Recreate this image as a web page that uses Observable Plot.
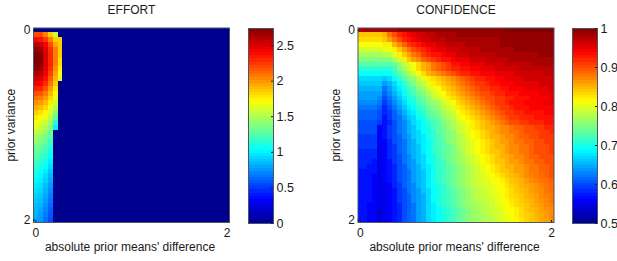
<!DOCTYPE html>
<html>
<head>
<meta charset="utf-8">
<script src="https://cdn.jsdelivr.net/npm/d3@7"></script>
<script src="https://cdn.jsdelivr.net/npm/@observablehq/plot@0.6"></script>
<style>
html,body{margin:0;padding:0;background:#fff}
#chart{position:relative;width:617px;height:261px;overflow:hidden}
#chart svg{position:absolute;top:0;background:transparent;overflow:visible}
</style>
</head>
<body>
<div id="chart"></div>
<script>
const xLabel = "absolute prior means' difference";
const yLabel = "prior variance";
const axisTicks = [0, 2];
const effortTicks = [0, 0.5, 1, 1.5, 2, 2.5];
const confidenceTicks = [0.5, 0.6, 0.7, 0.8, 0.9, 1];
const effortMax = 2.74;
const gridSize = 40;
const jetStops = [0, 0.125, 0.375, 0.625, 0.875, 1];
const jetColors = ["#00008f", "#0000ff", "#00ffff", "#ffff00", "#ff0000", "#800000"];

// Effort: one list per column of the grid, top row first. All other columns are 0.
const effortCol0 = [0,2.2,2.4,2.6,2.7,2.74,2.74,2.74,2.72,2.62,2.52,2.42,2.32,2.2,2.1,2.02,1.93,1.85,1.77,1.7,1.62,1.54,1.48,1.42,1.36,1.3,1.26,1.2,1.15,1.1,1.06,1.02,0.98,0.95,0.92,0.89,0.86,0.84,0.82,0.8];
const effortCol1 = [0,2.2,2.35,2.55,2.65,2.72,2.74,2.72,2.68,2.6,2.5,2.4,2.3,2.17,2.07,1.98,1.9,1.8,1.72,1.65,1.58,1.5,1.44,1.38,1.32,1.26,1.22,1.16,1.1,1.06,1.02,0.98,0.94,0.91,0.88,0.85,0.82,0.79,0.77,0.75];
const effortCol2 = [0,2.05,2.25,2.4,2.48,2.5,2.5,2.5,2.48,2.42,2.36,2.28,2.18,2.07,1.98,1.9,1.82,1.73,1.65,1.57,1.49,1.41,1.35,1.29,1.23,1.18,1.13,1.08,1.03,0.98,0.94,0.9,0.86,0.83,0.8,0.77,0.74,0.71,0.68,0.65];
const effortCol3 = [0,1.85,2.05,2.2,2.28,2.3,2.3,2.3,2.27,2.22,2.15,2.08,1.98,1.9,1.82,1.76,1.68,1.6,1.53,1.46,1.38,1.32,1.26,1.2,1.14,1.08,1.03,0.98,0.93,0.88,0.84,0.8,0.76,0.72,0.69,0.66,0.63,0.6,0.57,0.55];
const effortCol4 = [0,1.55,1.85,1.95,2.05,2.05,2.05,2.05,2,1.95,1.9,1.85,1.78,1.72,1.66,1.58,1.5,1.4,1.28,1.12,1,0,0,0,0,0,0,0,0,0,0,0,0,0,0,0,0,0,0,0];
const effortCol5 = [0,0,1.85,1.85,1.85,1.85,1.8,1.8,1.75,1.7,1.62,0,0,0,0,0,0,0,0,0,0,0,0,0,0,0,0,0,0,0,0,0,0,0,0,0,0,0,0,0];
const effortColumns = [effortCol0, effortCol1, effortCol2, effortCol3, effortCol4, effortCol5];

// Confidence in percent: one list per row of the grid, left column first.
const confidenceRows = [
[97,98,98,98,98,98,98,98,99,99,99,99,99,99,99,99,99,99,99,99,99,99,99,99,99,99,99,99,99,99,100,100,100,100,100,100,100,100,100,100],
[84,84,84,84,84,85,88,90,92,93,94,95,96,96,97,97,98,98,98,98,99,99,99,99,99,99,99,99,99,99,99,99,99,99,99,99,99,99,99,99],
[83,83,83,83,83,84,86,88,90,92,93,94,95,96,96,97,97,97,98,98,98,98,98,98,98,98,98,98,98,99,99,99,99,99,99,99,99,99,99,99],
[81,81,81,81,81,82,82,85,87,89,91,92,93,94,95,95,96,96,97,97,97,97,98,98,98,98,98,98,98,99,99,99,99,99,99,99,99,99,99,99],
[79,79,79,79,79,80,80,82,84,86,88,90,91,92,93,94,95,95,96,96,96,97,97,97,97,98,98,98,98,98,98,98,99,99,99,99,99,99,99,99],
[77,77,77,77,77,78,78,80,82,84,86,88,89,91,92,93,93,94,95,95,96,96,96,97,97,97,97,97,98,98,98,98,98,98,98,98,98,99,99,99],
[75,75,75,75,75,75,75,77,79,82,84,86,87,89,90,91,92,93,93,94,95,95,95,96,96,96,97,97,97,97,97,98,98,98,98,98,98,98,98,98],
[73,73,73,73,73,73,73,74,76,78,79,81,83,85,86,88,89,90,91,93,93,94,94,95,95,95,96,96,96,96,97,97,97,97,97,97,98,98,98,98],
[71,71,71,71,71,71,71,72,75,77,79,81,83,85,86,88,89,90,91,92,92,93,93,94,94,95,95,95,96,96,96,96,96,97,97,97,97,97,97,97],
[69,69,69,69,69,69,69,71,73,75,77,79,81,83,85,86,87,88,89,90,91,92,92,93,93,94,94,94,95,95,95,95,96,96,96,96,96,96,97,97],
[67,67,67,67,67,66,67,69,71,73,75,76,78,80,82,83,84,85,86,87,88,89,90,91,92,92,93,93,94,94,95,95,95,95,96,96,96,96,96,96],
[66,66,66,66,66,64,65,67,69,71,73,75,77,78,80,82,83,84,85,86,87,88,89,90,91,91,92,93,93,94,94,94,95,95,95,95,95,96,96,96],
[65,65,65,65,65,62,64,66,68,70,72,73,75,77,79,80,81,83,84,85,86,87,88,89,90,91,91,92,92,93,93,94,94,94,95,95,95,95,95,96],
[64,64,64,64,64,61,63,65,67,69,71,72,74,75,77,79,80,81,83,84,85,86,87,88,89,90,90,91,92,92,93,93,93,94,94,94,94,95,95,95],
[64,64,64,64,63,60,62,64,66,68,70,71,73,74,76,78,79,80,82,83,84,85,86,87,88,89,90,90,91,91,92,92,93,93,93,94,94,94,94,95],
[63,63,63,63,62,59,61,63,65,67,69,70,72,73,75,76,77,79,80,81,83,84,85,86,87,88,89,90,91,91,92,93,93,93,94,94,94,94,95,95],
[62,62,62,62,61,58,60,62,64,66,68,69,71,72,74,75,76,78,79,80,82,83,84,85,86,87,88,89,90,91,91,92,93,93,93,94,94,94,94,94],
[61,61,61,61,60,58,59,61,63,65,67,68,70,71,73,74,75,77,78,79,81,82,83,84,85,86,87,88,89,90,91,91,92,92,93,93,93,93,94,94],
[61,61,61,61,60,57,59,61,62,64,66,67,69,70,72,73,74,76,77,78,80,81,82,83,84,85,86,87,88,89,90,91,91,92,92,92,93,93,93,93],
[60,60,60,60,59,57,58,60,62,63,65,67,68,69,71,72,73,75,76,77,79,80,81,82,83,84,85,86,87,88,89,90,90,91,91,92,92,92,93,93],
[60,60,60,60,56,57,59,60,62,63,65,66,68,69,70,72,73,74,76,77,78,79,80,82,83,84,85,85,86,87,87,88,89,89,90,90,91,91,92,92],
[60,60,60,60,56,57,59,60,62,63,65,66,67,69,70,71,73,74,75,76,78,79,80,81,82,83,84,85,86,87,87,88,88,89,90,90,90,91,91,92],
[59,59,59,59,56,57,59,60,61,63,64,66,67,68,70,71,72,74,75,76,77,78,80,81,82,83,84,85,85,86,87,87,88,89,89,90,90,91,91,91],
[59,59,59,59,56,56,58,60,61,62,64,65,67,68,69,71,72,73,75,76,77,78,79,80,81,82,83,84,85,86,86,87,88,88,89,89,90,90,91,91],
[59,59,59,59,55,56,58,59,61,62,64,65,66,68,69,71,72,73,74,75,77,78,79,80,81,82,83,84,85,85,86,87,87,88,88,89,90,90,90,91],
[58,58,58,58,55,56,58,59,61,62,64,65,66,68,69,71,72,73,74,75,76,77,79,80,81,82,83,84,84,85,86,87,87,88,88,89,90,90,90,91],
[58,58,58,58,55,56,58,59,60,62,63,65,66,67,69,70,72,73,74,75,76,77,78,79,80,81,82,83,84,85,85,86,87,87,88,89,89,90,90,90],
[58,58,58,57,55,56,57,59,60,62,63,64,66,67,69,70,71,72,74,75,76,77,78,79,80,81,82,83,84,84,85,86,86,87,88,88,89,89,90,90],
[58,58,57,57,55,56,57,58,60,61,63,64,65,67,68,70,71,72,73,74,75,76,77,78,79,80,81,82,83,84,85,85,86,86,87,88,88,89,89,90],
[57,57,57,57,55,56,57,58,60,61,62,64,65,66,68,69,71,72,73,74,75,76,77,78,79,80,81,82,83,84,84,85,86,86,87,88,88,89,89,90],
[57,57,57,56,55,56,57,58,60,61,62,64,65,66,68,70,71,72,73,74,75,76,77,78,79,79.5,80.5,81,82,83,84,84.5,85,86,87,87.5,88,88.5,89,90],
[57,57,57,56,55,56,57,58,60,61,62,64,65,66,68,70,71,72,73,74,75,76,77,78,79,79.5,80,80.5,81,82,83,84,84.5,85,86,87,87.5,88,88.5,89],
[57,57,57,56,55,55,56,58,59,61,62,63,65,66,68,69,70,71,73,74,75,76,77,78,78.5,79,79.5,80,81,81.5,82.5,83.5,84,85,85.5,86,86.5,87.5,88,88.5],
[57,57,57,56,55,55,56,57,59,60,62,63,64,66,67,69,70,71,72,73,74,75,76,77,78,78.5,79,80,80.5,81.5,82,83,84,84.5,85,86,86.5,87,88,88.5],
[57,57,57,56,55,55,56,57,59,60,61,63,64,65,67,69,70,71,72,73,74,75,76,77,78,78.5,79,79.5,80,81,82,83,83.5,84,85,85.5,86,87,87.5,88],
[57,57,57,56,55,55,56,57,59,60,61,63,64,65,67,69,70,71,72,73,74,75,76,77,77.5,78,78.5,79,80,81,81.5,82.5,83,84,84.5,85,86,86.5,87,88],
[57,57,56,56,55,55,56,57,58,60,61,62,64,65,67,68,70,71,72,73,74,75,76,76.5,77,77.5,78,79,80,80.5,81,82,83,83.5,84,85,85.5,86,87,87.5],
[57,57,56,56,54,55,56,57,58,60,61,62,64,65,67,68,69,70,71,72,73,74,75,76,77,77.5,78,78.5,79.5,80,81,81.5,82,83,84,84.5,85,86,86.5,87],
[57,57,56,56,54,55,56,57,58,60,61,62,64,65,67,68,69,70,71,72,73,74,75,76,76.5,77,78,78.5,79,80,80.5,81,82,83,83.5,84,85,85.5,86,87],
[57,57,56,56,54,55,56,57,58,60,61,62,64,65,67,68,69,70,71,72,73,74,75,76,76.5,77,77.5,78,79,79.5,80.5,81,81.5,82.5,83.5,84,84.5,85.5,86,87]
];

const fontStyle = {fontFamily: "'Liberation Sans', Arial, sans-serif", fontSize: "12px", color: "#1a1a1a", background: "transparent"};
const chart = document.getElementById("chart");

function jetScale(lo, hi) {
  return {type: "linear", domain: jetStops.map(t => lo + t * (hi - lo)), range: jetColors, interpolate: "rgb", clamp: true};
}

function heatmap(title, rows, lo, hi, left, marginLeft) {
  const step = 2 / (gridSize - 1);
  const cells = rows.flatMap((row, r) => row.map((value, c) => ({
    x1: (c - 0.5) * step, x2: (c + 0.5) * step,
    y1: (r - 0.5) * step, y2: (r + 0.5) * step, value
  })));
  const svg = Plot.plot({
    width: 240, height: 261,
    marginLeft, marginRight: 240 - marginLeft - 196, marginTop: 27.5, marginBottom: 39,
    style: fontStyle,
    x: {domain: [-step / 2, 2 + step / 2]},
    y: {domain: [2 + step / 2, -step / 2]},
    color: jetScale(lo, hi),
    marks: [
      Plot.rect(cells, {x1: "x1", x2: "x2", y1: "y1", y2: "y2", fill: "value", shapeRendering: "crispEdges"}),
      Plot.frame({stroke: "#4d5560"}),
      Plot.axisX(axisTicks, {tickSize: -2, tickPadding: 8, tickFormat: d => String(d), fontSize: 12, label: null}),
      Plot.axisY(axisTicks, {tickSize: -2, tickPadding: 5, tickFormat: d => String(d), fontSize: 12,
        label: yLabel, labelAnchor: "center", labelArrow: "none", labelOffset: 27}),
      Plot.text([xLabel], {frameAnchor: "bottom", dx: -1.5, dy: 25, lineAnchor: "middle", fontSize: 12}),
      Plot.text([title], {frameAnchor: "top", dy: -17.5, lineAnchor: "middle", fontSize: 12})
    ]
  });
  svg.style.left = left + "px";
  chart.appendChild(svg);
}

function colorbar(lo, hi, ticks, left) {
  const levels = d3.range(64).map(i => ({
    y1: lo + (hi - lo) * i / 64,
    y2: lo + (hi - lo) * (i + 1) / 64,
    value: lo + (hi - lo) * (i + 0.5) / 64
  }));
  const svg = Plot.plot({
    width: 45, height: 261,
    marginLeft: 0, marginRight: 20, marginTop: 28, marginBottom: 38,
    style: fontStyle,
    x: {axis: null, domain: [0, 1]},
    y: {domain: [lo, hi]},
    color: jetScale(lo, hi),
    marks: [
      Plot.rect(levels, {x1: 0, x2: 1, y1: "y1", y2: "y2", fill: "value", shapeRendering: "crispEdges"}),
      Plot.frame({stroke: "#4d5560"}),
      Plot.tickY(ticks, {y: d => d, insetLeft: 23, stroke: "#222"}),
      Plot.axisY(ticks, {anchor: "right", tickSize: 0, tickPadding: 3, tickFormat: d => String(d), fontSize: 12.5, label: null})
    ]
  });
  svg.style.left = left + "px";
  chart.appendChild(svg);
}

const effortRows = d3.range(gridSize).map(r => d3.range(gridSize).map(c => effortColumns[c] ? effortColumns[c][r] : 0));
const confidenceValues = confidenceRows.map(row => row.map(v => v / 100));

heatmap("EFFORT", effortRows, 0, effortMax, 0, 33);
colorbar(0, effortMax, effortTicks, 248);
heatmap("CONFIDENCE", confidenceValues, 0.5, 1, 324, 33.5);
colorbar(0.5, 1, confidenceTicks, 572);
</script>
</body>
</html>
